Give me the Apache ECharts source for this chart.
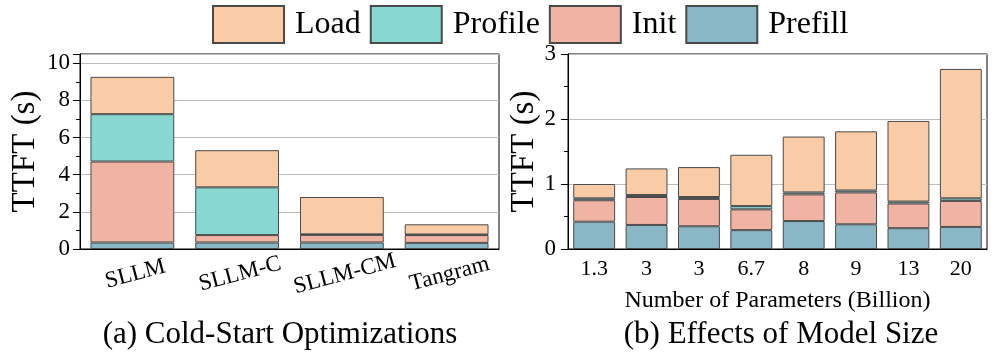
<!DOCTYPE html>
<html>
<head>
<meta charset="utf-8">
<script src="https://cdn.jsdelivr.net/npm/echarts@6/dist/echarts.min.js"></script>
<style>
html, body { margin: 0; padding: 0; background: #fff; }
#container { width: 997px; height: 356px; }
</style>
</head>
<body>
<div id="container"></div>
<script>
// (a) cold-start optimizations
var catsA = ['SLLM', 'SLLM-C', 'SLLM-CM', 'Tangram'];
var prefillA = [0.35, 0.35, 0.35, 0.33];
var initA = [4.36, 0.40, 0.41, 0.42];
var profileA = [2.55, 2.57, 0.03, 0.03];
var loadA = [2.01, 2.00, 2.01, 0.55];

// (b) model size
var catsB = ['1.3', '3', '3', '6.7', '8', '9', '13', '20'];
var prefillB = [0.42, 0.37, 0.35, 0.29, 0.43, 0.38, 0.32, 0.34];
var initB = [0.33, 0.43, 0.42, 0.32, 0.41, 0.49, 0.38, 0.40];
var profileB = [0.03, 0.03, 0.03, 0.05, 0.03, 0.03, 0.03, 0.04];
var loadB = [0.22, 0.41, 0.46, 0.79, 0.86, 0.91, 1.24, 1.99];

var names = ['Load', 'Profile', 'Init', 'Prefill'];
var colors = {
    Load: '#F9CBA6',
    Profile: '#88D7D0',
    Init: '#F1B3A3',
    Prefill: '#8AB7C6'
};

var font = 'Liberation Serif, Times New Roman, serif';

var dom = document.getElementById("container");
var myChart = echarts.init(dom);
var option = null;

function bar(name, data, idx, stack) {
    return {
        name: name,
        type: 'bar',
        stack: stack,
        xAxisIndex: idx,
        yAxisIndex: idx,
        barWidth: '80%',
        data: data,
        itemStyle: {
            color: colors[name],
            borderColor: '#4a4a4a',
            borderWidth: 1
        },
        emphasis: { disabled: true }
    };
}

function catAxis(grid, cats, rotate, margin, fontSize) {
    return {
        type: 'category',
        gridIndex: grid,
        data: cats,
        axisLine: { lineStyle: { color: '#000', width: 1 } },
        axisTick: { length: 4, lineStyle: { color: '#000' } },
        axisLabel: {
            color: '#000',
            fontFamily: font,
            fontSize: fontSize,
            rotate: rotate,
            align: 'center',
            verticalAlign: 'top',
            margin: margin,
            interval: 0
        }
    };
}

// second axis only to draw the ticks under the bar centres
function centerTicks(grid, cats) {
    return {
        type: 'category',
        gridIndex: grid,
        data: cats,
        axisLine: { show: false },
        axisTick: { alignWithLabel: true, length: 7, lineStyle: { color: '#000' } },
        axisLabel: { show: false }
    };
}

function valAxis(grid, max, interval, nameGap, labelMargin) {
    return {
        type: 'value',
        gridIndex: grid,
        min: 0,
        max: max,
        interval: interval,
        name: 'TTFT (s)',
        nameLocation: 'middle',
        nameGap: nameGap,
        nameTextStyle: { color: '#000', fontFamily: font, fontSize: 33 },
        axisLine: { show: true, lineStyle: { color: '#000', width: 1 } },
        axisTick: { show: true, length: 7, lineStyle: { color: '#000' } },
        minorTick: { show: true, splitNumber: 2, length: 4, lineStyle: { color: '#000' } },
        axisLabel: {
            color: '#000',
            fontFamily: font,
            fontSize: 23,
            margin: labelMargin,
            showMaxLabel: max === 3
        },
        splitLine: { show: true, lineStyle: { color: '#bdbdbd', width: 1 } }
    };
}

option = {
    animation: false,
    textStyle: { fontFamily: font },
    legend: {
        data: names,
        top: 0,
        left: 207,
        itemWidth: 71,
        itemHeight: 37,
        itemGap: 9,
        icon: 'rect',
        selectedMode: false,
        textStyle: { color: '#000', fontFamily: font, fontSize: 32, padding: [0, 0, 0, 6] }
    },
    title: [{
        text: '(a) Cold-Start Optimizations',
        left: 275,
        top: 314,
        textAlign: 'center',
        textStyle: { color: '#000', fontFamily: font, fontSize: 31, fontWeight: 'normal' }
    }, {
        text: '(b) Effects of Model Size',
        left: 776,
        top: 314,
        textAlign: 'center',
        textStyle: { color: '#000', fontFamily: font, fontSize: 31, fontWeight: 'normal' }
    }],
    grid: [{
        left: 80, top: 54, width: 419, height: 195,
        show: true, borderColor: '#000', borderWidth: 1, backgroundColor: 'transparent'
    }, {
        left: 568, top: 54, width: 419, height: 195,
        show: true, borderColor: '#000', borderWidth: 1, backgroundColor: 'transparent'
    }],
    xAxis: [
        catAxis(0, catsA, 15, 14, 23),
        (function () {
            var ax = catAxis(1, catsB, 0, 9, 22);
            ax.name = 'Number of Parameters (Billion)';
            ax.nameLocation = 'middle';
            ax.nameGap = 40;
            ax.nameTextStyle = { color: '#000', fontFamily: font, fontSize: 24 };
            return ax;
        })(),
        centerTicks(0, catsA),
        centerTicks(1, catsB)
    ],
    yAxis: [
        valAxis(0, 10.5, 2, 38, 10),
        valAxis(1, 3, 1, 24, 12)
    ],
    series: [
        bar('Prefill', prefillA, 0, 'a'),
        bar('Init', initA, 0, 'a'),
        bar('Profile', profileA, 0, 'a'),
        bar('Load', loadA, 0, 'a'),
        bar('Prefill', prefillB, 1, 'b'),
        bar('Init', initB, 1, 'b'),
        bar('Profile', profileB, 1, 'b'),
        bar('Load', loadB, 1, 'b')
    ]
};

if (option && typeof option === "object") {
    myChart.setOption(option, true);
}
</script>
</body>
</html>
